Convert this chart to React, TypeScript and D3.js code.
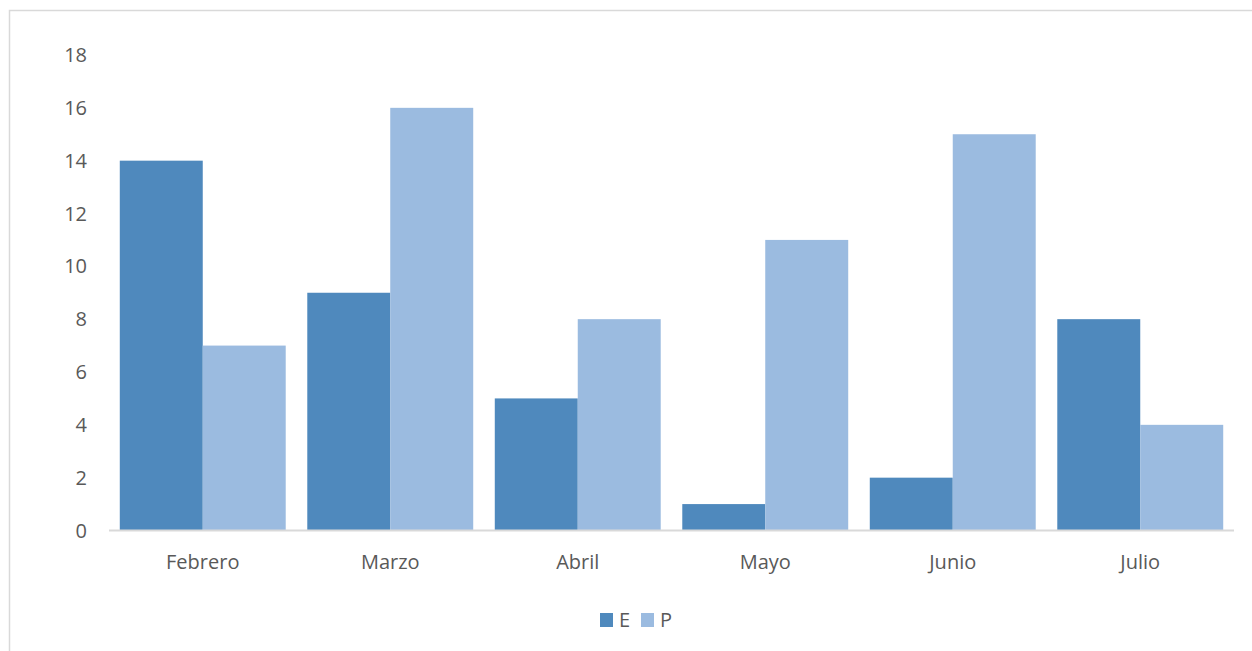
import React from "react";
import * as d3 from "d3";

const months = ["Febrero", "Marzo", "Abril", "Mayo", "Junio", "Julio"];
const seriesE = [14, 9, 5, 1, 2, 8];
const seriesP = [7, 16, 8, 11, 15, 4];
const seriesNames = ["E", "P"];
const yTicks = [0, 2, 4, 6, 8, 10, 12, 14, 16, 18];

const colors = ["#4F89BD", "#9BBBE0"];
const textColor = "#595959";
const font = "'Open Sans', 'Liberation Sans', sans-serif";

export default function App() {
  const W = 1252;
  const H = 651;
  const left = 109;
  const right = 1234;
  const y0 = 530.5;
  const yTop = 55;

  const x = d3.scaleBand<string>().domain(months).range([left, right]).paddingInner(0.115).paddingOuter(0.0575);
  const inner = d3.scaleBand<string>().domain(seriesNames).range([0, x.bandwidth()]);
  const y = d3.scaleLinear().domain([0, 18]).range([y0, yTop]);

  const data = [seriesE, seriesP];

  return (
    <svg width={W} height={H} style={{ position: "absolute", left: 0, top: 0 }}>
      <rect x={0} y={0} width={W} height={H} fill="#fff" />
      <rect x={9.5} y={10.5} width={W + 20} height={H + 20} fill="#fff" stroke="#D9D9D9" strokeWidth={1.5} />
      {yTicks.map((t) => (
        <text key={t} x={87} y={y(t)} dy="0.35em" textAnchor="end" fontFamily={font} fontSize={20} fill={textColor}>
          {t}
        </text>
      ))}
      {months.map((m, i) => (
        <g key={m}>
          {seriesNames.map((s, j) => (
            <rect
              key={s}
              x={(x(m) as number) + (inner(s) as number)}
              y={y(data[j][i])}
              width={inner.bandwidth()}
              height={y0 - y(data[j][i])}
              fill={colors[j]}
            />
          ))}
          <text x={(x(m) as number) + x.bandwidth() / 2} y={562} dy="0.35em" textAnchor="middle" fontFamily={font} fontSize={20} fill={textColor}>
            {m}
          </text>
        </g>
      ))}
      <line x1={left} x2={right} y1={y0} y2={y0} stroke="#D9D9D9" strokeWidth={2} />
      {seriesNames.map((s, j) => (
        <g key={s} transform={`translate(${600 + j * 41},613)`}>
          <rect x={0} y={0} width={13} height={14} fill={colors[j]} />
          <text x={19} y={7} dy="0.35em" fontFamily={font} fontSize={20} fill={textColor}>
            {s}
          </text>
        </g>
      ))}
    </svg>
  );
}
